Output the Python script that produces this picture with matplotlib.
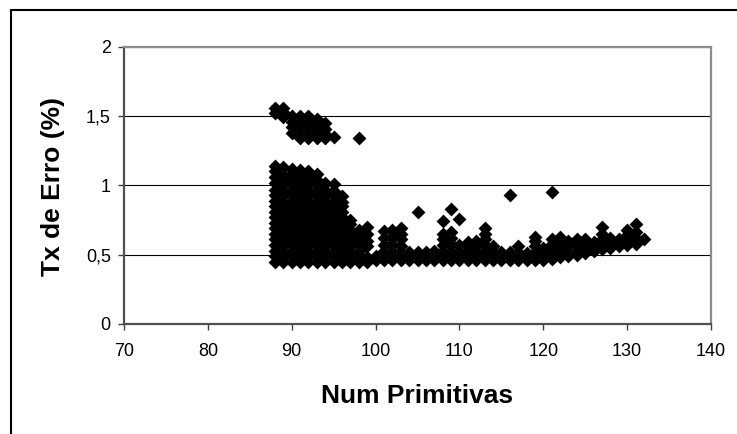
import matplotlib
matplotlib.use("Agg")
import matplotlib.pyplot as plt
from matplotlib.patches import Rectangle

# Error rate (%) versus number of primitives, grouped by column of x values
upper_prims = [88, 89, 90, 91, 92, 93, 94, 95, 98]
upper_errs = [
    [1.56, 1.52],
    [1.56, 1.53, 1.49],
    [1.50, 1.46, 1.42, 1.38],
    [1.50, 1.46, 1.42, 1.38, 1.34],
    [1.50, 1.46, 1.42, 1.38, 1.34],
    [1.48, 1.44, 1.40, 1.36, 1.34],
    [1.45, 1.41, 1.37, 1.34],
    [1.35],
    [1.34],
]

core_prims = [88, 89, 90, 91, 92, 93, 94, 95, 96, 97, 98, 99]
core_errs = [
    [0.45, 0.49, 0.53, 0.57, 0.61, 0.65, 0.69, 0.73, 0.77, 0.81, 0.85, 0.89, 0.93, 0.97, 1.02, 1.06, 1.10, 1.14],
    [0.45, 0.48, 0.52, 0.56, 0.60, 0.64, 0.68, 0.72, 0.76, 0.80, 0.84, 0.88, 0.92, 0.96, 1.00, 1.04, 1.08, 1.13],
    [0.45, 0.49, 0.53, 0.57, 0.61, 0.65, 0.69, 0.73, 0.77, 0.81, 0.85, 0.89, 0.93, 0.97, 1.01, 1.05, 1.08, 1.12],
    [0.45, 0.48, 0.52, 0.56, 0.60, 0.64, 0.68, 0.72, 0.76, 0.80, 0.84, 0.88, 0.92, 0.96, 1.00, 1.04, 1.07, 1.11],
    [0.45, 0.49, 0.53, 0.57, 0.61, 0.65, 0.69, 0.73, 0.77, 0.81, 0.85, 0.89, 0.93, 0.97, 1.01, 1.05, 1.10],
    [0.45, 0.48, 0.52, 0.56, 0.60, 0.64, 0.68, 0.72, 0.76, 0.80, 0.84, 0.88, 0.92, 0.96, 1.00, 1.04, 1.08],
    [0.45, 0.49, 0.53, 0.57, 0.61, 0.65, 0.69, 0.73, 0.77, 0.81, 0.85, 0.89, 0.93, 0.97, 1.02],
    [0.45, 0.48, 0.52, 0.56, 0.60, 0.64, 0.68, 0.72, 0.76, 0.80, 0.84, 0.88, 0.92, 0.96, 1.01],
    [0.45, 0.49, 0.53, 0.57, 0.61, 0.65, 0.69, 0.73, 0.77, 0.81, 0.85, 0.88, 0.92],
    [0.45, 0.48, 0.52, 0.56, 0.60, 0.64, 0.68, 0.72, 0.75],
    [0.45, 0.49, 0.53, 0.57, 0.61, 0.64, 0.68],
    [0.45, 0.48, 0.56, 0.60, 0.65, 0.70],
]

tail_prims = list(range(100, 133))
tail_errs = [
    [0.46, 0.49],
    [0.46, 0.49, 0.53, 0.57, 0.62, 0.67],
    [0.46, 0.49, 0.53, 0.58, 0.63, 0.68],
    [0.46, 0.49, 0.52, 0.56, 0.61, 0.65, 0.69],
    [0.46, 0.49, 0.52],
    [0.46, 0.49, 0.52, 0.81],
    [0.46, 0.49, 0.52],
    [0.46, 0.49, 0.53],
    [0.46, 0.49, 0.53, 0.57, 0.61, 0.65, 0.74],
    [0.46, 0.49, 0.53, 0.58, 0.62, 0.66, 0.83],
    [0.46, 0.49, 0.53, 0.57, 0.76],
    [0.46, 0.49, 0.53, 0.56, 0.59],
    [0.46, 0.49, 0.52, 0.56, 0.60],
    [0.46, 0.49, 0.53, 0.57, 0.61, 0.65, 0.69],
    [0.46, 0.49, 0.52, 0.56],
    [0.46, 0.49, 0.52],
    [0.46, 0.49, 0.52, 0.93],
    [0.46, 0.49, 0.52, 0.56],
    [0.46, 0.49, 0.51],
    [0.46, 0.49, 0.52, 0.56, 0.60, 0.63],
    [0.46, 0.49, 0.52, 0.55],
    [0.47, 0.50, 0.54, 0.58, 0.61, 0.95],
    [0.48, 0.51, 0.55, 0.59, 0.63],
    [0.49, 0.52, 0.56, 0.60],
    [0.50, 0.53, 0.57, 0.61],
    [0.51, 0.54, 0.58, 0.61],
    [0.53, 0.56, 0.59],
    [0.54, 0.57, 0.61, 0.65, 0.70],
    [0.55, 0.58, 0.62],
    [0.56, 0.59, 0.61],
    [0.57, 0.60, 0.64, 0.68],
    [0.58, 0.62, 0.66, 0.72],
    [0.61],
]

x_ticks = [70, 80, 90, 100, 110, 120, 130, 140]
y_ticks = [0, 0.5, 1, 1.5, 2]
y_tick_labels = ["0", "0,5", "1", "1,5", "2"]


def flatten(prims, errs):
    xs, ys = [], []
    for p, col in zip(prims, errs):
        for e in col:
            xs.append(p)
            ys.append(e)
    return xs, ys


plt.rcParams["font.family"] = ["Liberation Sans", "DejaVu Sans"]

W, H = 737, 434
fig = plt.figure(figsize=(W / 100, H / 100), dpi=100)

# chart-area border
fig.patches.append(Rectangle((11 / W, -0.05), 1.1, 1 - 10 / H + 0.05,
                             transform=fig.transFigure, fill=False,
                             edgecolor="black", linewidth=1.5))

left, right, top, bottom = 124, 711, 46.7, 324
ax = fig.add_axes([left / W, 1 - bottom / H, (right - left) / W, (bottom - top) / H])

for prims, errs in [(core_prims, core_errs), (upper_prims, upper_errs), (tail_prims, tail_errs)]:
    xs, ys = flatten(prims, errs)
    ax.scatter(xs, ys, marker="D", s=50, color="black", linewidths=0, zorder=3)

ax.set_xlim(70, 140)
ax.set_ylim(0, 2)
ax.set_xticks(x_ticks)
ax.set_yticks(y_ticks)
ax.set_yticklabels(y_tick_labels)

ax.set_axisbelow(True)
ax.grid(axis="y", color="black", linewidth=0.8)
ax.grid(axis="x", visible=False)

for side in ("top", "right"):
    ax.spines[side].set_color("#8c8c8c")
    ax.spines[side].set_linewidth(1.6)
for side in ("left", "bottom"):
    ax.spines[side].set_color("#505050")
    ax.spines[side].set_linewidth(1.6)

ax.tick_params(axis="both", direction="out", length=4.5, width=1, color="#404040",
               labelsize=13, labelcolor="black")
ax.tick_params(axis="x", pad=9)
ax.tick_params(axis="y", pad=5)

fig.text(417.5 / W, 1 - 403 / H, "Num Primitivas", ha="center", va="baseline",
         fontsize=19, fontweight="bold")
fig.text(60 / W, 1 - 187 / H, "Tx de Erro (%)", ha="center", va="baseline",
         rotation=90, rotation_mode="anchor", fontsize=19, fontweight="bold")

fig.savefig("out.png", dpi=100)
